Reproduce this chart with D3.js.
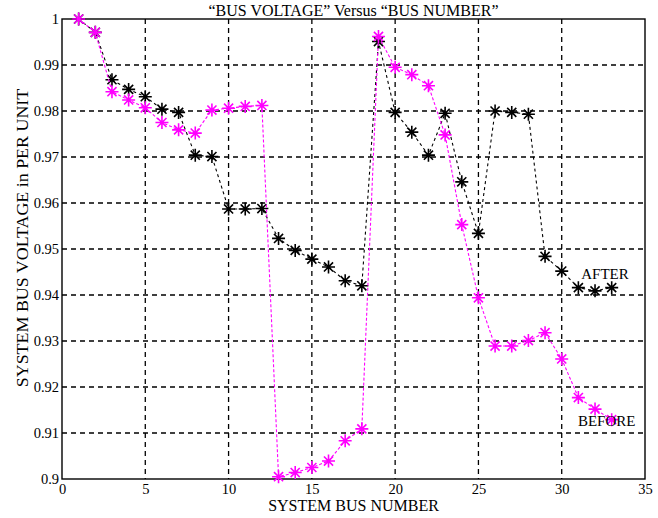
<!DOCTYPE html>
<html>
<head>
<meta charset="utf-8">
<script src="https://cdn.jsdelivr.net/npm/d3@7"></script>
<style>
  body { margin: 0; background: #fff; }
  svg { font-family: "Liberation Serif", "DejaVu Serif", serif; }
</style>
</head>
<body>
<svg id="chart"></svg>
<script>
// bus numbers 1..33
var buses = [1,2,3,4,5,6,7,8,9,10,11,12,13,14,15,16,17,18,19,20,21,22,23,24,25,26,27,28,29,30,31,32,33];

// voltage before (magenta)
var before = [1.000,0.9971,0.9842,0.9824,0.9807,0.9775,0.9759,0.9752,0.9802,0.9806,0.9810,0.9812,
  0.9005,0.9014,0.9025,0.9039,0.9083,0.9109,0.9962,0.9895,0.9879,0.9855,0.9748,0.9553,
  0.9394,0.9289,0.9289,0.9301,0.9318,0.9261,0.9177,0.9152,0.9129];

// voltage after (black)
var after = [1.000,0.9971,0.9868,0.9847,0.9831,0.9804,0.9797,0.9704,0.9701,0.9587,0.9587,0.9588,
  0.9523,0.9497,0.9478,0.9461,0.9431,0.9420,0.9951,0.9797,0.9754,0.9704,0.9795,0.9646,
  0.9534,0.9800,0.9797,0.9793,0.9484,0.9452,0.9416,0.9409,0.9416];

var xTicks = [0,5,10,15,20,25,30,35];
var yTicks = [0.9,0.91,0.92,0.93,0.94,0.95,0.96,0.97,0.98,0.99,1];

var W = 658, H = 518;
var margin = { top: 19, right: 13, bottom: 39, left: 62 };
var width = W - margin.left - margin.right;
var height = H - margin.top - margin.bottom;

var svg = d3.select("#chart").attr("width", W).attr("height", H);
var g = svg.append("g").attr("transform", "translate(" + margin.left + "," + margin.top + ")");

var x = d3.scaleLinear().domain([0, 35]).range([0, width]);
var y = d3.scaleLinear().domain([0.9, 1]).range([height, 0]);

// grid
g.append("g").selectAll("line").data(xTicks.slice(1, -1)).enter().append("line")
  .attr("x1", function(d) { return x(d); }).attr("x2", function(d) { return x(d); })
  .attr("y1", 0).attr("y2", height)
  .attr("stroke", "#000").attr("stroke-width", 1.3).attr("stroke-dasharray", "5,4");
g.append("g").selectAll("line").data(yTicks.slice(1, -1)).enter().append("line")
  .attr("x1", 0).attr("x2", width)
  .attr("y1", function(d) { return y(d); }).attr("y2", function(d) { return y(d); })
  .attr("stroke", "#000").attr("stroke-width", 1.3).attr("stroke-dasharray", "5,4");

// axes
var xAxis = g.append("g").attr("transform", "translate(0," + height + ")")
  .call(d3.axisBottom(x).tickValues(xTicks).tickSize(0).tickPadding(5).tickFormat(d3.format("d")));
var yAxis = g.append("g")
  .call(d3.axisLeft(y).tickValues(yTicks).tickSize(0).tickPadding(3).tickFormat(function(d) { return d3.format("")(+d.toFixed(2)); }));
[xAxis, yAxis].forEach(function(a) {
  a.select(".domain").remove();
  a.selectAll("text").attr("font-family", "Liberation Serif").attr("font-size", 14.5).attr("fill", "#000");
});

// frame
g.append("rect").attr("width", width).attr("height", height)
  .attr("fill", "none").attr("stroke", "#000").attr("stroke-width", 1.4);

// series
var line = d3.line().x(function(d) { return x(d[0]); }).y(function(d) { return y(d[1]); });
var series = [
  { name: "after", values: after, color: "#000000", dash: "3,3" },
  { name: "before", values: before, color: "#ff00ff", dash: "3,2" }
];

function star(s) {
  return "M" + (-s) + ",0H" + s + "M0," + (-s) + "V" + s +
    "M" + (-s * 0.7) + "," + (-s * 0.7) + "L" + (s * 0.7) + "," + (s * 0.7) +
    "M" + (-s * 0.7) + "," + (s * 0.7) + "L" + (s * 0.7) + "," + (-s * 0.7);
}

series.forEach(function(s) {
  var pts = buses.map(function(b, i) { return [b, s.values[i]]; });
  g.append("path").datum(pts).attr("d", line)
    .attr("fill", "none").attr("stroke", s.color).attr("stroke-width", 1.1)
    .attr("stroke-dasharray", s.dash);
  g.append("g").selectAll("path").data(pts).enter().append("path")
    .attr("transform", function(d) { return "translate(" + x(d[0]) + "," + y(d[1]) + ")"; })
    .attr("d", star(6.5))
    .attr("fill", "none").attr("stroke", s.color).attr("stroke-width", 1.6);
});

// annotations
g.append("text").attr("x", x(32.6)).attr("y", y(0.9435)).attr("text-anchor", "middle")
  .attr("font-size", 15).text("AFTER");
g.append("text").attr("x", x(32.7)).attr("y", y(0.9115)).attr("text-anchor", "middle")
  .attr("font-size", 15).text("BEFORE");

// title and labels
svg.append("text").attr("x", margin.left + width / 2).attr("y", 16).attr("text-anchor", "middle")
  .attr("font-size", 16).text("\u201cBUS VOLTAGE\u201d Versus \u201cBUS NUMBER\u201d");
svg.append("text").attr("x", margin.left + width / 2).attr("y", 511).attr("text-anchor", "middle")
  .attr("font-size", 16).text("SYSTEM BUS NUMBER");
svg.append("text").attr("transform", "translate(28,238) rotate(-90) scale(1.12,1)")
  .attr("text-anchor", "middle").attr("font-size", 16).text("SYSTEM BUS VOLTAGE in PER UNIT");
</script>
</body>
</html>
